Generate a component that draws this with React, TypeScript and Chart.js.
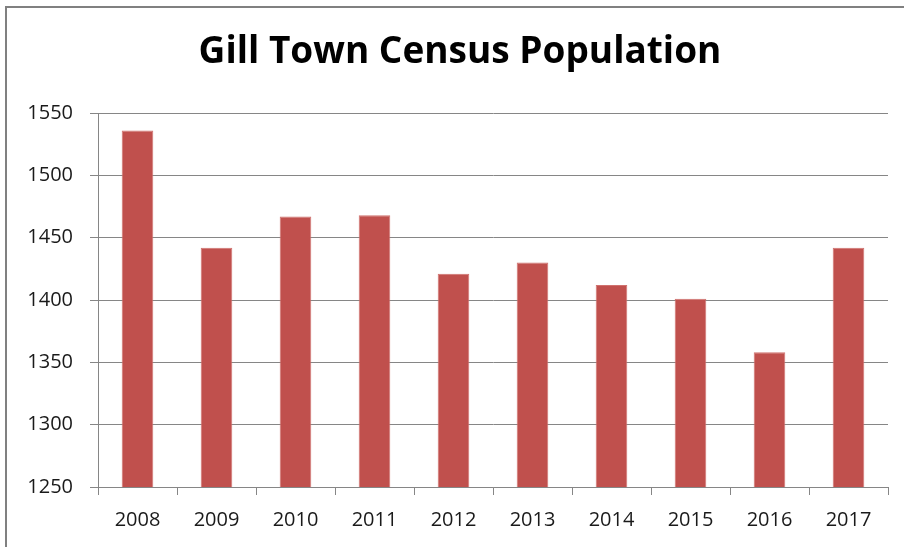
import React, { useEffect, useRef } from "react";
import { Chart, registerables } from "chart.js";

Chart.register(...registerables);

const years = ["2008", "2009", "2010", "2011", "2012", "2013", "2014", "2015", "2016", "2017"];
const population = [1536, 1442, 1467, 1468, 1421, 1430, 1412, 1401, 1358, 1442];
const yMin = 1250;
const yMax = 1550;
const yStep = 50;
const titleText = "Gill Town Census Population";

const titlePlugin = {
  id: "centeredTitle",
  afterDraw(chart: any) {
    const ctx = chart.ctx;
    ctx.save();
    ctx.font = "bold 37px 'Open Sans'";
    ctx.fillStyle = "#000000";
    ctx.textAlign = "center";
    ctx.textBaseline = "middle";
    ctx.fillText(titleText, 460, 52);
    ctx.restore();
  },
};

export default function App() {
  const ref = useRef<HTMLCanvasElement | null>(null);

  useEffect(() => {
    if (!ref.current) return;
    const chart = new Chart(ref.current, {
      type: "bar",
      data: {
        labels: years,
        datasets: [
          {
            data: population,
            backgroundColor: "#C0504D",
            borderColor: "#D0716E",
            borderWidth: 1,
            barPercentage: 0.4,
            categoryPercentage: 1,
          },
        ],
      },
      plugins: [titlePlugin],
      options: {
        responsive: false,
        animation: false,
        layout: { padding: { top: 113, left: 8, right: 16, bottom: 0 } },
        plugins: {
          legend: { display: false },
          tooltip: { enabled: false },
          title: { display: false },
        },
        scales: {
          x: {
            grid: {
              display: true,
              drawOnChartArea: false,
              drawTicks: true,
              tickLength: 8,
              color: "#868686",
              offset: true,
            },
            border: { display: true, color: "#868686", width: 1 },
            ticks: {
              color: "#1a1a1a",
              font: { family: "Open Sans", size: 20 },
              padding: 13,
              maxRotation: 0,
            },
            afterFit: (scale: any) => {
              scale.height = 60;
            },
          },
          y: {
            min: yMin,
            max: yMax,
            grid: {
              color: "#868686",
              tickLength: 8,
              lineWidth: 1,
            },
            border: { display: true, color: "#868686", width: 1 },
            ticks: {
              stepSize: yStep,
              color: "#1a1a1a",
              font: { family: "Open Sans", size: 20 },
              padding: 17,
              callback: (v: any) => String(v),
            },
            afterFit: (scale: any) => {
              scale.width = 90;
            },
          },
        },
      },
    });
    return () => chart.destroy();
  }, []);

  return (
    <div style={{ position: "absolute", left: 0, top: 0, width: 904, height: 547, background: "#fff", overflow: "hidden" }}>
      <canvas ref={ref} width={904} height={547} style={{ position: "absolute", left: 0, top: 0 }} />
      <div
        style={{
          position: "absolute",
          left: 5,
          top: 6,
          width: 899,
          height: 541,
          borderTop: "2px solid #808080",
          borderLeft: "2px solid #808080",
          pointerEvents: "none",
        }}
      />
    </div>
  );
}
